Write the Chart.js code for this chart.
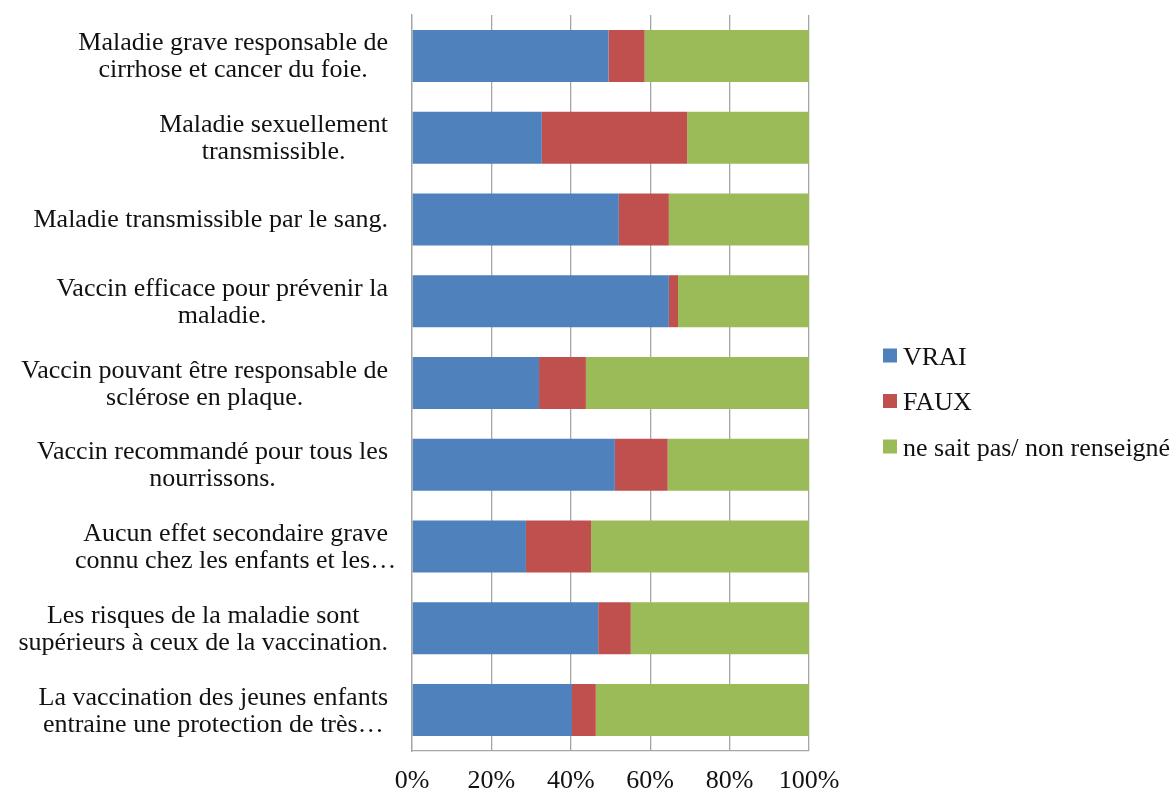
<!DOCTYPE html>
<html><head><meta charset="utf-8">
<script src="https://cdn.jsdelivr.net/npm/chart.js@4/dist/chart.umd.min.js"></script>
<style>html,body{margin:0;padding:0;background:#fff}#wrap{width:1176px;height:794px}</style>
</head><body><div id="wrap"><canvas id="c" width="1176" height="794"></canvas></div>
<script>
const categories = [
  ["Maladie grave responsable de", "cirrhose et cancer du foie."],
  ["Maladie sexuellement", "transmissible."],
  ["Maladie transmissible par le sang."],
  ["Vaccin efficace pour prévenir la", "maladie."],
  ["Vaccin pouvant être responsable de", "sclérose en plaque."],
  ["Vaccin recommandé pour tous les", "nourrissons."],
  ["Aucun effet secondaire grave", "connu chez les enfants et les…"],
  ["Les risques de la maladie sont", "supérieurs à ceux de la vaccination."],
  ["La vaccination des jeunes enfants", "entraine une protection de très…"]
];
const seriesNames = ["VRAI", "FAUX", "ne sait pas/ non renseigné"];
const vrai = [49.5, 32.7, 52.1, 64.7, 32.0, 51.1, 28.7, 46.9, 40.3];
const faux = [9.1, 36.6, 12.6, 2.3, 11.8, 13.3, 16.4, 8.2, 6.0];
const nsp  = [41.4, 30.7, 35.3, 33.0, 56.2, 35.6, 54.9, 44.9, 53.7];
const xTicks = [0, 20, 40, 60, 80, 100];
const colors = ["#4F81BD", "#C0504D", "#9BBB59"];

const FONT = '"Liberation Serif", "Times New Roman", serif';
const TEXT = '#111111';
const GRID = '#a6a6a6';

const catLabels = {
  id: 'catLabels',
  afterDraw(chart) {
    const ctx = chart.ctx, ys = chart.scales.y;
    ctx.save();
    ctx.font = '26px ' + FONT;
    ctx.fillStyle = TEXT;
    ctx.textAlign = 'center';
    ctx.textBaseline = 'alphabetic';
    const right = chart.chartArea.left - 24;
    chart.data.labels.forEach((lines, i) => {
      const cy = ys.getPixelForTick(i);
      const w = Math.max(...lines.map(l => ctx.measureText(l.replace(/…$/, '')).width));
      const cx = right - w / 2;
      lines.forEach((l, j) => {
        ctx.fillText(l, cx, cy + (j - (lines.length - 1) / 2) * 27 + 8);
      });
    });
    ctx.restore();
  }
};

const sideLegend = {
  id: 'sideLegend',
  afterDraw(chart) {
    const ctx = chart.ctx;
    ctx.save();
    ctx.font = '26px ' + FONT;
    ctx.textAlign = 'left';
    ctx.textBaseline = 'alphabetic';
    const x0 = chart.chartArea.right + 74;
    const yMid = chart.height / 2 + 4;
    const n = chart.data.datasets.length;
    chart.data.datasets.forEach((ds, i) => {
      const cy = yMid + (i - (n - 1) / 2) * 45.5;
      ctx.fillStyle = ds.backgroundColor;
      ctx.fillRect(x0, cy - 7, 14, 14);
      ctx.fillStyle = TEXT;
      ctx.fillText(ds.label, x0 + 20, cy + 9);
    });
    ctx.restore();
  }
};

new Chart(document.getElementById('c'), {
  type: 'bar',
  data: {
    labels: categories,
    datasets: [
      { label: seriesNames[0], data: vrai, backgroundColor: colors[0] },
      { label: seriesNames[1], data: faux, backgroundColor: colors[1] },
      { label: seriesNames[2], data: nsp, backgroundColor: colors[2] }
    ]
  },
  options: {
    indexAxis: 'y',
    responsive: false,
    animation: false,
    devicePixelRatio: 1,
    layout: { padding: { top: 15, right: 367, bottom: 0, left: 0 } },
    datasets: { bar: { barPercentage: 0.636, categoryPercentage: 1, borderWidth: 0 } },
    plugins: { legend: { display: false }, tooltip: { enabled: false } },
    scales: {
      x: {
        stacked: true,
        min: 0, max: 100,
        afterBuildTicks: s => { s.ticks = xTicks.map(v => ({ value: v })); },
        afterFit: s => { s.height = 43; },
        ticks: { callback: v => v + '%', font: { family: FONT, size: 26 }, color: TEXT, padding: 15, maxRotation: 0 },
        grid: { color: GRID, lineWidth: 1.3, drawTicks: false },
        border: { color: GRID, width: 1.3 }
      },
      y: {
        stacked: true,
        afterFit: s => { s.width = 412; },
        ticks: { display: false },
        grid: { display: false },
        border: { color: GRID, width: 1.3 }
      }
    }
  },
  plugins: [catLabels, sideLegend]
});
</script></body></html>
